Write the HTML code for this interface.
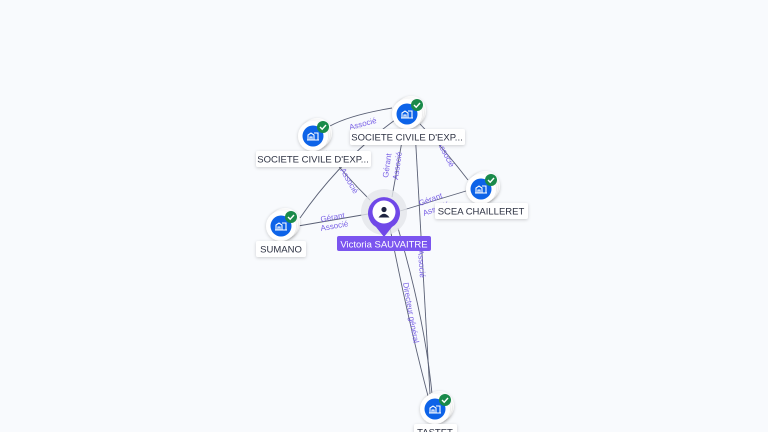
<!DOCTYPE html>
<html><head><meta charset="utf-8"><style>
html,body{margin:0;padding:0;background:#f8fafd;}
svg{display:block;font-family:"Liberation Sans",sans-serif;}
</style></head><body>
<svg width="768" height="432" viewBox="0 0 768 432" xmlns="http://www.w3.org/2000/svg">
<defs>
<filter id="sh" x="-50%" y="-50%" width="200%" height="200%"><feDropShadow dx="0" dy="1" stdDeviation="1.5" flood-color="#000" flood-opacity="0.18"/></filter>
<g id="co">
  <circle cx="4" cy="-3" r="15" fill="#fff" filter="url(#sh)"/>
  <circle cx="2" cy="-1.5" r="15" fill="#fff" filter="url(#sh)"/>
  <circle cx="0" cy="0" r="15" fill="#fff" filter="url(#sh)"/>
  <circle cx="0" cy="0" r="10.5" fill="#0d63e8"/>
  <path d="M-5 4 V-1 L-2 -3 L1 -1 V4 M1 -3 H5 V4 M-6 4 H6 M-3 4 V1 H-1 V4" fill="none" stroke="#fff" stroke-width="1.1"/>
  <circle cx="10" cy="-9" r="6" fill="#1a8a4a"/>
  <path d="M7 -9 L9.2 -6.8 L13 -11" fill="none" stroke="#fff" stroke-width="1.4"/>
</g>
</defs>
<g fill="none" stroke="#5a6075" stroke-width="0.9">
  <path d="M392 197 L404 130"/>
  <path d="M370 200 Q345 175 326 151"/>
  <path d="M368 214 L298 226"/>
  <path d="M400 211 L466 191"/>
  <path d="M390 228 Q408 320 428 396"/>
  <path d="M398 228 Q425 320 432 394"/>
  <path d="M415 130 L430 394"/>
  <path d="M392 108 Q350 115 330 126"/>
  <path d="M395 120 Q340 160 300 218"/>
  <path d="M420 124 Q445 150 468 180"/>
</g>
<g font-size="8" fill="#7a62e6">
  <text transform="translate(350,130) rotate(-15)">Associé</text>
  <text transform="translate(388,178) rotate(-82)">Gérant</text>
  <text transform="translate(398,180) rotate(-82)">Associé</text>
  <text transform="translate(340,170) rotate(60)">Associé</text>
  <text transform="translate(321,222) rotate(-10)">Gérant</text>
  <text transform="translate(321,231) rotate(-10)">Associé</text>
  <text transform="translate(420,206) rotate(-20)">Gérant</text>
  <text transform="translate(424,216) rotate(-20)">Associé</text>
  <text transform="translate(437,143) rotate(62)">Associé</text>
  <text transform="translate(403,283) rotate(80)">Directeur général</text>
  <text transform="translate(418,250) rotate(86)">Associé</text>
</g>
<circle cx="384" cy="212" r="23" fill="#e4e6ea" opacity="0.8"/>
<path d="M384 237 L376 227 A16 16 0 1 1 392 227 Z" fill="#7048e8"/>
<circle cx="384" cy="212" r="11.5" fill="#fff"/>
<circle cx="384" cy="209.5" r="2.6" fill="#1e2340"/>
<path d="M378.5 217.5 Q384 210 389.5 217.5 Z" fill="#1e2340"/>
<rect x="337" y="236" width="94" height="15" rx="2" fill="#7b55ef"/>
<text x="384" y="247.5" font-size="9.5" fill="#fff" text-anchor="middle">Victoria SAUVAITRE</text>
<use href="#co" x="313" y="136"/>
<use href="#co" x="407" y="114"/>
<use href="#co" x="481" y="189"/>
<use href="#co" x="281" y="226"/>
<use href="#co" x="435" y="409"/>
<g font-size="9.5" fill="#2c3142" text-anchor="middle">
  <rect x="256" y="151" width="115" height="16" rx="2" fill="#fff" filter="url(#sh)"/>
  <text x="313" y="162.5">SOCIETE CIVILE D'EXP...</text>
  <rect x="350" y="129" width="115" height="16" rx="2" fill="#fff" filter="url(#sh)"/>
  <text x="407" y="140.5">SOCIETE CIVILE D'EXP...</text>
  <rect x="435" y="203" width="93" height="16" rx="2" fill="#fff" filter="url(#sh)"/>
  <text x="481" y="214.5">SCEA CHAILLERET</text>
  <rect x="256" y="241" width="50" height="16" rx="2" fill="#fff" filter="url(#sh)"/>
  <text x="281" y="252.5">SUMANO</text>
  <rect x="414" y="424" width="43" height="16" rx="2" fill="#fff" filter="url(#sh)"/>
  <text x="435" y="435.5">TASTET</text>
</g>
</svg>
</body></html>
